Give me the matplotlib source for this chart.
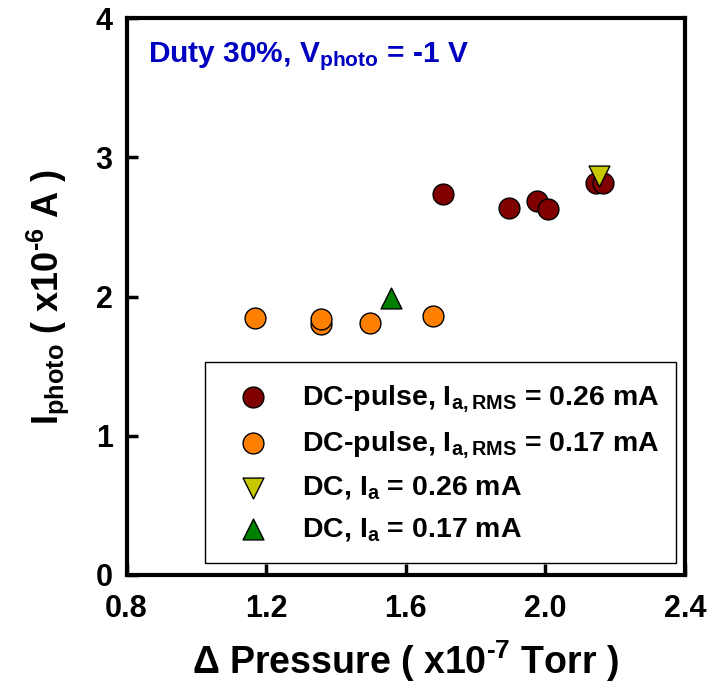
import matplotlib
matplotlib.use("Agg")
import matplotlib.pyplot as plt
from matplotlib.patches import Rectangle

plt.rcParams['font.family'] = ['Liberation Sans', 'DejaVu Sans']
plt.rcParams['font.weight'] = 'bold'
plt.rcParams['mathtext.fontset'] = 'custom'
plt.rcParams['mathtext.rm'] = 'Liberation Sans:bold'
plt.rcParams['mathtext.it'] = 'Liberation Sans:bold'
plt.rcParams['mathtext.bf'] = 'Liberation Sans:bold'

# Data
pulse026_x = [1.707, 1.896, 1.976, 2.007, 2.145, 2.165]
pulse026_y = [2.736, 2.635, 2.688, 2.626, 2.813, 2.818]
pulse017_x = [1.168, 1.358, 1.358, 1.498, 1.677]
pulse017_y = [1.844, 1.806, 1.842, 1.808, 1.858]
dc026_x = [2.154]
dc026_y = [2.866]
dc017_x = [1.558]
dc017_y = [1.987]

labels = [r'DC-pulse, I$_{\mathrm{a,RMS}}$ = 0.26 mA',
          r'DC-pulse, I$_{\mathrm{a,RMS}}$ = 0.17 mA',
          r'DC, I$_{\mathrm{a}}$ = 0.26 mA',
          r'DC, I$_{\mathrm{a}}$ = 0.17 mA']
xticks = [0.8, 1.2, 1.6, 2.0, 2.4]
yticks = [0, 1, 2, 3, 4]

fig = plt.figure(figsize=(7.15, 6.9), dpi=100)
ax = fig.add_axes([0.177, 0.1667, 0.781, 0.807])

ms = 225
h1 = ax.scatter(pulse026_x, pulse026_y, s=ms, c='#800000', edgecolors='black', linewidths=1, zorder=3)
h2 = ax.scatter(pulse017_x, pulse017_y, s=ms, c='#FF8000', edgecolors='black', linewidths=1, zorder=3)
h3 = ax.scatter(dc026_x, dc026_y, s=ms, marker='v', c='#C8C800', edgecolors='black', linewidths=1, zorder=4)
h4 = ax.scatter(dc017_x, dc017_y, s=ms, marker='^', c='#008000', edgecolors='black', linewidths=1, zorder=4)

ax.set_xlim(0.8, 2.4)
ax.set_ylim(0, 4)
ax.set_xticks(xticks)
ax.set_xticklabels(['%.1f' % v for v in xticks])
ax.set_yticks(yticks)
ax.tick_params(direction='in', length=8, width=2.5, labelsize=22)
ax.tick_params(axis='x', pad=14)
ax.tick_params(axis='y', pad=10)
for lab in ax.get_xticklabels() + ax.get_yticklabels():
    lab.set_fontweight('bold')
for sp in ax.spines.values():
    sp.set_linewidth(3)

ax.set_xlabel(r'Δ Pressure ( x10$^{\text{-7}}$ Torr )', fontsize=27, fontweight='bold', labelpad=10)
ax.set_ylabel(r'I$_{\mathrm{photo}}$ ( x10$^{\text{-6}}$ A )', fontsize=26, fontweight='bold', labelpad=18)

ax.text(0.038, 0.93, r'Duty 30%, V$_{\mathrm{photo}}$ = -1 V', transform=ax.transAxes,
        fontsize=21.5, fontweight='bold', color='#0000C0', va='center', ha='left')

ax.add_patch(Rectangle((0.1406, 0.0215), 0.8434, 0.3609, transform=ax.transAxes,
                       fill=False, edgecolor='black', linewidth=1, zorder=5))
leg = ax.legend([h1, h2, h3, h4], labels, loc='upper left', bbox_to_anchor=(0.2015, 0.345),
                frameon=False, fontsize=20.5, handlelength=1.0, handletextpad=1.2,
                labelspacing=0.52, borderaxespad=0, borderpad=0)
for t in leg.get_texts():
    t.set_fontweight('bold')

fig.savefig('out.png', dpi=100)
